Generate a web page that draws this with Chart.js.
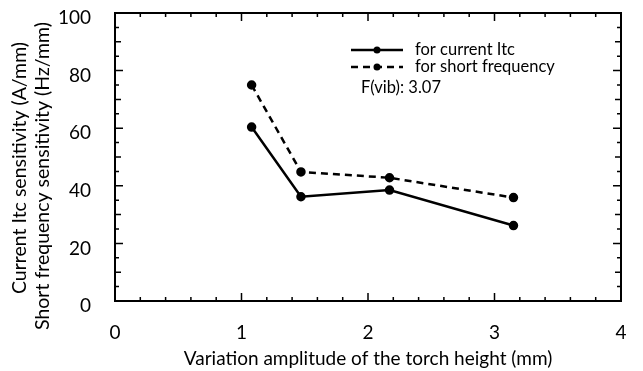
<!DOCTYPE html>
<html>
<head>
<meta charset="utf-8">
<script src="https://cdn.jsdelivr.net/npm/chart.js@4.4.1/dist/chart.umd.min.js"></script>
<style>
  html, body { margin: 0; padding: 0; background: #fff; }
  #c { display: block; }
</style>
</head>
<body>
<canvas id="c" width="643" height="371"></canvas>
<script>
// datos
const amplitude = [1.08, 1.47, 2.17, 3.15];
const currentItc = [60.4, 36.2, 38.5, 26.2];
const shortFreq = [75, 44.8, 42.8, 35.9];
const xTicks = [0, 1, 2, 3, 4];
const yTicks = [0, 20, 40, 60, 80, 100];
const legendLabels = ['for current Itc', 'for short frequency'];
const yTitleLines = ['Current Itc sensitivity (A/mm)', 'Short frequency sensitivity (Hz/mm)'];
const noteText = 'F(vib): 3.07';

const FONT = 'Lato, "Open Sans", sans-serif';

// marco con marcas hacia dentro en los cuatro lados
const frameTicks = {
    id: 'frameTicks',
    beforeDatasetsDraw(chart) {
        const { ctx, chartArea: a, scales: { x, y } } = chart;
        ctx.save();
        ctx.strokeStyle = '#000';
        ctx.lineWidth = 2;
        ctx.strokeRect(a.left, a.top, a.right - a.left, a.bottom - a.top);
        ctx.lineWidth = 1.5;
        ctx.beginPath();
        for (let i = 0; i <= 20; i++) {
            const px = x.getPixelForValue(i * 0.2);
            const len = i % 5 === 0 ? 8 : 4;
            ctx.moveTo(px, a.bottom); ctx.lineTo(px, a.bottom - len);
            ctx.moveTo(px, a.top); ctx.lineTo(px, a.top + len);
        }
        for (let i = 0; i <= 20; i++) {
            const py = y.getPixelForValue(i * 5);
            const len = i % 4 === 0 ? 8 : (i % 2 === 0 ? 6 : 4);
            ctx.moveTo(a.left, py); ctx.lineTo(a.left + len, py);
            ctx.moveTo(a.right, py); ctx.lineTo(a.right - len, py);
        }
        ctx.stroke();
        ctx.restore();
    }
};

// título del eje Y en dos líneas, un poco más bajo que el centro del área
const yTitle = {
    id: 'yTitle',
    afterDraw(chart, args, opts) {
        const { ctx } = chart;
        ctx.save();
        ctx.font = `19.5px ${FONT}`;
        ctx.fillStyle = '#000';
        ctx.textAlign = 'center';
        ctx.textBaseline = 'middle';
        yTitleLines.forEach((t, i) => {
            ctx.save();
            ctx.translate(opts.x + i * opts.gap, opts.cy + i * opts.shift);
            ctx.rotate(-Math.PI / 2);
            ctx.fillText(t, 0, 0);
            ctx.restore();
        });
        ctx.restore();
    }
};

// leyenda dibujada a mano: línea con punto + texto
const legendBox = {
    id: 'legendBox',
    afterDraw(chart, args, opts) {
        const { ctx } = chart;
        ctx.save();
        ctx.font = `16.5px ${FONT}`;
        ctx.fillStyle = '#000';
        ctx.textBaseline = 'middle';
        chart.data.datasets.forEach((ds, i) => {
            const yy = opts.y + i * opts.rowGap;
            ctx.strokeStyle = ds.borderColor;
            ctx.lineWidth = ds.borderWidth;
            ctx.setLineDash(ds.borderDash || []);
            ctx.beginPath();
            ctx.moveTo(opts.x, yy);
            ctx.lineTo(opts.x + opts.lineLen, yy);
            ctx.stroke();
            ctx.setLineDash([]);
            ctx.beginPath();
            ctx.arc(opts.x + opts.lineLen / 2, yy, ds.pointRadius, 0, Math.PI * 2);
            ctx.fill();
            ctx.fillText(ds.label, opts.x + opts.lineLen + 12, yy);
        });
        ctx.fillText(noteText, opts.x + 10, opts.y + 2 * opts.rowGap + 4);
        ctx.restore();
    }
};

const ctx = document.getElementById('c').getContext('2d');
new Chart(ctx, {
    type: 'scatter',
    data: {
        datasets: [{
            label: legendLabels[0],
            data: amplitude.map((v, i) => ({ x: v, y: currentItc[i] })),
            showLine: true,
            borderColor: '#000',
            backgroundColor: '#000',
            borderWidth: 2.5,
            borderDash: [],
            pointRadius: 3.5,
            pointHoverRadius: 3.5
        }, {
            label: legendLabels[1],
            data: amplitude.map((v, i) => ({ x: v, y: shortFreq[i] })),
            showLine: true,
            borderColor: '#000',
            backgroundColor: '#000',
            borderWidth: 2.5,
            borderDash: [7, 5],
            pointRadius: 3.5,
            pointHoverRadius: 3.5
        }]
    },
    options: {
        responsive: false,
        animation: false,
        layout: { padding: { top: 13, right: 22, left: 0, bottom: 0 } },
        plugins: {
            legend: { display: false },
            tooltip: { enabled: false },
            legendBox: { x: 351, y: 50, rowGap: 17, lineLen: 52 },
            yTitle: { x: 20, gap: 23, cy: 168, shift: 8 }
        },
        scales: {
            x: {
                type: 'linear',
                min: 0, max: 4,
                afterBuildTicks: s => { s.ticks = xTicks.map(v => ({ value: v })); },
                afterFit: s => { s.height = 70; s.paddingLeft = 0; s.paddingRight = 0; },
                grid: { display: false },
                border: { display: false },
                ticks: { color: '#000', font: { family: FONT, size: 19 }, padding: 12 },
                title: {
                    display: true,
                    text: 'Variation amplitude of the torch height (mm)',
                    color: '#000',
                    font: { family: FONT, size: 19 },
                    padding: { top: 0, bottom: 1 }
                }
            },
            y: {
                min: 0, max: 100,
                afterBuildTicks: s => { s.ticks = yTicks.map(v => ({ value: v })); },
                afterFit: s => { s.width = 115; s.paddingTop = 0; s.paddingBottom = 0; },
                grid: { display: false },
                border: { display: false },
                ticks: { color: '#000', font: { family: FONT, size: 19 }, padding: 16, labelOffset: 5 }
            }
        }
    },
    plugins: [frameTicks, yTitle, legendBox]
});
</script>
</body>
</html>
